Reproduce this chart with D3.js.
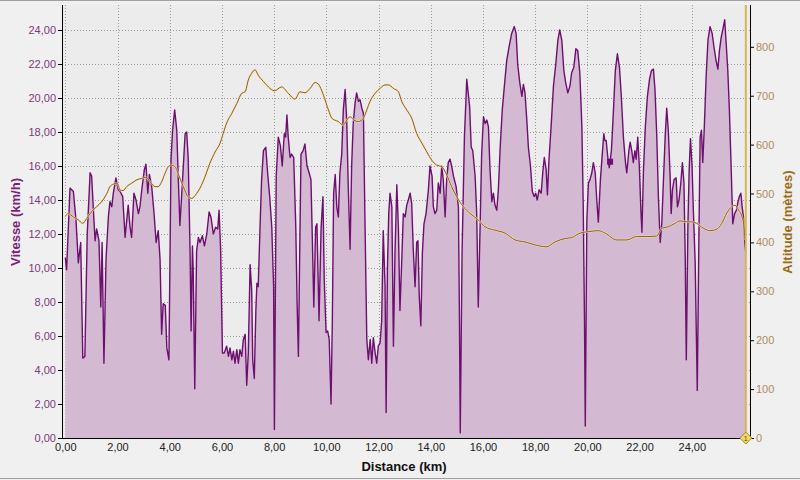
<!DOCTYPE html>
<html><head><meta charset="utf-8">
<script src="https://cdn.jsdelivr.net/npm/d3@7"></script>
<style>
html,body{margin:0;padding:0;background:#f0f0f0;}
svg{display:block;font-family:"Liberation Sans",Arial,sans-serif;}
</style></head>
<body>
<svg id="c" width="800" height="480"></svg>
<script>
// Speed profile: distance (km) and speed (km/h)
const speedDist = [0.00,0.05,0.18,0.31,0.41,0.50,0.59,0.67,0.75,0.84,0.95,1.01,1.07,1.14,1.20,1.29,1.36,1.41,1.48,1.56,1.65,1.71,1.78,1.84,1.94,2.03,2.10,2.20,2.29,2.41,2.48,2.54,2.63,2.71,2.80,2.86,2.93,3.03,3.09,3.16,3.22,3.31,3.40,3.48,3.56,3.63,3.69,3.75,3.83,3.89,3.97,4.05,4.11,4.19,4.27,4.33,4.39,4.50,4.59,4.65,4.71,4.78,4.82,4.87,4.90,4.96,5.03,5.10,5.16,5.25,5.33,5.42,5.51,5.58,5.67,5.76,5.84,5.89,5.95,6.02,6.09,6.18,6.25,6.31,6.38,6.44,6.50,6.57,6.63,6.69,6.76,6.82,6.89,6.95,7.01,7.08,7.14,7.18,7.24,7.30,7.34,7.39,7.46,7.52,7.59,7.68,7.75,7.83,7.91,7.98,8.01,8.08,8.16,8.24,8.31,8.39,8.44,8.49,8.54,8.61,8.67,8.75,8.83,8.88,8.93,8.98,9.03,9.11,9.18,9.26,9.34,9.41,9.46,9.52,9.59,9.64,9.72,9.80,9.87,9.92,9.99,10.05,10.11,10.18,10.23,10.28,10.34,10.40,10.46,10.52,10.59,10.65,10.72,10.78,10.84,10.91,10.97,11.03,11.10,11.16,11.23,11.29,11.36,11.42,11.48,11.55,11.61,11.68,11.74,11.80,11.87,11.93,11.99,12.06,12.12,12.18,12.25,12.29,12.34,12.39,12.44,12.51,12.57,12.63,12.70,12.76,12.82,12.89,12.95,13.02,13.08,13.14,13.21,13.27,13.33,13.40,13.46,13.51,13.56,13.62,13.68,13.74,13.82,13.91,13.97,14.05,14.10,14.16,14.23,14.29,14.36,14.42,14.48,14.55,14.61,14.67,14.74,14.80,14.87,14.97,15.06,15.10,15.13,15.20,15.29,15.38,15.49,15.55,15.61,15.70,15.76,15.82,15.89,15.95,16.02,16.08,16.15,16.21,16.27,16.34,16.40,16.46,16.53,16.59,16.66,16.74,16.82,16.91,17.00,17.10,17.20,17.27,17.33,17.41,17.49,17.55,17.61,17.68,17.74,17.82,17.89,17.96,18.02,18.08,18.15,18.23,18.29,18.35,18.42,18.47,18.53,18.61,18.70,18.79,18.87,18.94,19.02,19.10,19.17,19.25,19.33,19.40,19.48,19.56,19.63,19.71,19.79,19.84,19.89,19.92,19.98,20.04,20.10,20.17,20.23,20.30,20.36,20.42,20.50,20.57,20.63,20.67,20.72,20.79,20.84,20.92,21.00,21.07,21.15,21.23,21.30,21.38,21.46,21.51,21.59,21.64,21.70,21.76,21.82,21.87,21.93,21.99,22.05,22.09,22.15,22.22,22.30,22.38,22.45,22.53,22.59,22.66,22.72,22.79,22.85,22.91,22.98,23.04,23.10,23.17,23.21,23.26,23.32,23.40,23.45,23.51,23.58,23.64,23.70,23.75,23.79,23.85,23.90,23.95,24.01,24.06,24.13,24.18,24.21,24.27,24.32,24.37,24.42,24.48,24.55,24.62,24.70,24.78,24.85,24.93,25.00,25.06,25.13,25.21,25.26,25.31,25.38,25.44,25.51,25.57,25.64,25.71,25.77,25.82,25.88,25.93,25.98,26.03,26.07];
const speedKmh = [10.6,9.9,14.7,14.5,12.8,10.3,11.5,4.7,4.8,12.0,15.6,15.4,13.6,11.6,12.3,11.6,7.7,11.5,4.4,10.5,13.0,13.9,13.6,14.4,15.3,14.6,14.5,14.2,11.8,13.7,12.4,11.8,14.4,14.0,13.2,13.6,14.6,15.8,16.1,14.4,15.5,14.8,13.2,11.5,12.2,10.5,6.1,7.9,7.8,5.3,4.6,16.4,18.1,19.3,18.1,15.2,12.5,15.4,17.9,18.0,16.4,10.9,6.3,11.3,9.9,2.9,11.0,11.8,11.5,11.9,11.3,12.0,13.3,13.0,12.0,12.4,12.3,13.4,11.1,5.0,5.0,5.4,4.8,5.3,4.6,5.1,4.4,5.2,4.4,5.2,4.8,5.8,6.1,3.1,5.0,10.2,8.7,4.6,3.5,7.5,9.1,8.9,12.4,15.2,16.9,17.1,15.6,14.2,12.4,8.9,0.5,15.4,17.7,17.2,16.0,17.9,17.7,19.0,17.7,16.5,16.7,16.5,12.4,7.9,4.8,10.9,16.7,16.9,17.3,16.0,15.6,15.2,12.0,7.7,12.4,12.6,6.9,12.4,14.2,9.3,6.2,6.3,5.8,2.0,6.9,14.4,15.5,13.6,13.0,15.6,16.7,19.3,20.5,18.7,14.8,11.1,16.0,18.5,19.7,20.3,19.8,19.9,19.4,19.1,12.8,5.8,4.6,5.8,4.4,5.9,5.0,4.4,5.4,5.6,6.9,12.2,8.9,1.5,9.9,13.2,14.4,13.6,5.4,10.9,14.9,12.4,7.5,10.5,13.2,13.0,13.7,14.0,14.4,13.8,11.1,8.9,11.5,11.6,8.3,6.6,10.9,12.6,13.2,14.6,16.0,15.4,13.6,13.2,13.4,15.0,14.4,16.0,15.2,13.0,15.2,16.2,16.4,16.0,15.4,14.8,13.6,6.9,0.3,10.9,17.7,21.1,19.5,17.1,16.9,15.4,13.2,7.7,12.4,16.7,18.9,18.5,18.7,18.3,15.8,13.9,14.4,13.7,13.4,14.6,17.1,19.3,20.7,22.2,23.0,23.8,24.2,23.8,22.0,20.9,20.1,20.8,20.3,18.7,17.1,16.0,14.5,14.2,14.4,14.0,14.6,14.4,15.6,16.5,15.8,14.3,16.4,18.3,20.7,22.0,23.4,24.0,23.4,21.6,20.9,20.3,20.7,21.5,21.8,22.9,22.8,21.5,18.3,13.8,6.9,0.7,12.8,15.0,15.2,15.6,16.2,15.6,14.0,12.7,15.2,16.7,17.9,17.5,17.5,16.4,15.9,16.9,19.3,21.6,22.6,21.8,20.1,17.7,16.2,15.6,16.9,17.4,16.9,16.2,16.9,16.4,17.7,16.0,13.4,12.1,15.8,18.3,20.1,21.1,21.6,21.7,20.5,17.7,14.2,11.5,12.6,15.0,17.7,19.4,18.1,15.4,13.2,14.6,15.2,15.3,13.6,14.0,15.0,16.2,15.0,10.5,4.6,12.4,15.8,17.6,16.0,13.4,10.3,5.6,2.8,11.5,17.7,18.1,16.2,18.3,21.3,23.4,24.2,23.8,23.0,22.2,21.7,22.8,23.6,24.2,24.6,23.4,21.6,19.3,15.8,12.6,13.2,13.4,13.9,14.2,14.4,13.6,13.0,11.5,10.9];

// Altitude profile: distance (km) and altitude (m)
const altDist = [0.00,0.11,0.31,0.50,0.67,0.82,1.01,1.20,1.39,1.59,1.71,1.84,1.99,2.10,2.22,2.35,2.54,2.74,2.93,3.09,3.25,3.44,3.56,3.69,3.82,3.95,4.08,4.20,4.37,4.52,4.71,4.84,5.03,5.16,5.35,5.54,5.74,5.93,6.05,6.18,6.38,6.57,6.76,6.89,7.01,7.14,7.27,7.39,7.59,7.78,8.01,8.29,8.54,8.80,8.99,9.18,9.38,9.57,9.69,9.89,10.08,10.21,10.46,10.65,10.78,10.91,11.06,11.23,11.42,11.55,11.67,11.87,12.06,12.25,12.38,12.57,12.76,12.89,13.08,13.27,13.46,13.66,13.85,14.04,14.23,14.42,14.61,14.80,15.00,15.25,15.51,15.82,16.08,16.46,16.85,17.23,17.61,17.99,18.44,18.76,19.15,19.40,19.72,20.04,20.42,20.68,21.13,21.51,21.89,22.28,22.66,22.85,23.10,23.36,23.55,23.81,24.00,24.19,24.44,24.70,24.96,25.15,25.34,25.53,25.66,25.79,25.92,26.00,26.04];
const altM = [453,459,452,446,439,449,463,473,483,500,514,519,521,507,506,514,521,528,531,533,524,514,514,524,541,555,558,555,534,514,493,490,500,511,534,562,585,603,623,644,664,684,705,708,732,746,753,742,729,718,710,718,705,693,708,706,715,727,724,701,671,654,647,640,650,657,650,647,654,671,688,705,715,722,722,715,708,688,671,654,623,603,585,568,558,555,538,514,493,473,459,446,432,425,419,405,401,395,391,401,408,410,419,422,424,419,405,405,412,412,413,429,432,439,444,442,442,439,429,424,427,439,460,473,476,466,453,432,405];

// Axis ticks
const speedTicks = [0,2,4,6,8,10,12,14,16,18,20,22,24];
const altTicks = [0,100,200,300,400,500,600,700,800];
const distTicks = [0,2,4,6,8,10,12,14,16,18,20,22,24];

// Markers
const lapMarkerKm = 26.07;
const pointMarker = {km: 20.87, v: 16.25};

const svg = d3.select("#c");
const L = 62, R = 750, T = 5, B = 438;

const x = d3.scaleLinear().domain([-0.1264, 26.23]).range([L, R]);
const yS = d3.scaleLinear().domain([0, 25.47]).range([B, T]);
const yA = d3.scaleLinear().domain([0, 885.5]).range([B, T]);
const fmt = v => d3.format(".2f")(v).replace(".", ",");

// background & frame
svg.append("rect").attr("x",0).attr("y",0).attr("width",800).attr("height",480).attr("fill","#f0f0f0");
svg.append("line").attr("x1",0).attr("x2",800).attr("y1",0.5).attr("y2",0.5).attr("stroke","#a0a0a0");
svg.append("line").attr("x1",0).attr("x2",800).attr("y1",478.5).attr("y2",478.5).attr("stroke","#a0a0a0");
svg.append("rect").attr("x",L).attr("y",T).attr("width",R-L).attr("height",B-T).attr("fill","#ececec");

// grid
const g = svg.append("g");
g.selectAll(".gx").data(distTicks).join("line")
  .attr("x1",d=>Math.round(x(d))+0.5).attr("x2",d=>Math.round(x(d))+0.5)
  .attr("y1",T).attr("y2",B).attr("stroke","#9a9a9a").attr("stroke-dasharray","1,2");
g.selectAll(".gy").data(speedTicks.filter(d=>d>0)).join("line")
  .attr("x1",L).attr("x2",R).attr("y1",d=>Math.round(yS(d))+0.5).attr("y2",d=>Math.round(yS(d))+0.5)
  .attr("stroke","#9a9a9a").attr("stroke-dasharray","1,2");

// speed area + line
const sp = speedDist.map((d,i)=>({d, v: speedKmh[i]}));
const area = d3.area().x(p=>x(p.d)).y0(yS(0)).y1(p=>yS(p.v));
const line = d3.line().x(p=>x(p.d)).y(p=>yS(p.v));
svg.append("path").datum(sp).attr("d",area).attr("fill","#d4b9d3");
svg.append("path").datum(sp).attr("d",line).attr("fill","none").attr("stroke","#6d0f6e").attr("stroke-width",1.4).attr("stroke-linejoin","round");

// altitude line
const al = altDist.map((d,i)=>({d, a: altM[i]}));
const aline = d3.line().x(p=>x(p.d)).y(p=>yA(p.a)).curve(d3.curveMonotoneX);
svg.append("path").datum(al).attr("d",aline).attr("fill","none").attr("stroke","#f5e3b0").attr("stroke-width",2.2).attr("opacity",0.7);
svg.append("path").datum(al).attr("d",aline).attr("fill","none").attr("stroke","#8e5d1c").attr("stroke-width",1);

// point marker
svg.append("rect").attr("x",x(pointMarker.km)-3).attr("y",yS(pointMarker.v)-3).attr("width",6).attr("height",6).attr("fill","#6d0f6e");

// lap marker line
svg.append("line").attr("x1",x(lapMarkerKm)).attr("x2",x(lapMarkerKm)).attr("y1",T).attr("y2",B)
  .attr("stroke","#d7b650").attr("stroke-width",2);

// axes
const axL = svg.append("g").attr("transform",`translate(${L},0)`).call(d3.axisLeft(yS).tickValues(speedTicks).tickFormat(fmt).tickSize(4).tickPadding(2));
axL.select(".domain").remove();
axL.selectAll("line").attr("stroke","#000");
axL.selectAll("text").attr("fill","#7b3a7b").attr("font-size","11px").attr("font-family","Liberation Sans, Arial, sans-serif");

const axR = svg.append("g").attr("transform",`translate(${R},0)`).call(d3.axisRight(yA).tickValues(altTicks).tickFormat(d3.format("d")).tickSize(4).tickPadding(2));
axR.select(".domain").remove();
axR.selectAll("line").attr("stroke","#000");
axR.selectAll("text").attr("fill","#ad8c5c").attr("font-size","11px").attr("font-family","Liberation Sans, Arial, sans-serif");

const axB = svg.append("g").attr("transform",`translate(0,${B})`).call(d3.axisBottom(x).tickValues(distTicks).tickFormat(fmt).tickSize(0).tickPadding(5));
axB.select(".domain").remove();
axB.selectAll("text").attr("fill","#222").attr("font-size","11px").attr("font-family","Liberation Sans, Arial, sans-serif");

svg.append("line").attr("x1",L+0.5).attr("x2",L+0.5).attr("y1",T).attr("y2",B).attr("stroke","#000");
svg.append("line").attr("x1",R+0.5).attr("x2",R+0.5).attr("y1",T).attr("y2",B).attr("stroke","#000");
svg.append("line").attr("x1",L).attr("x2",R+1).attr("y1",B+0.5).attr("y2",B+0.5).attr("stroke","#000");

// diamond marker at lap end
const dm = svg.append("g").attr("transform",`translate(${x(lapMarkerKm)},${B})`);
dm.append("path").attr("d","M0,-6L6,0L0,6L-6,0Z").attr("fill","#f3d76a").attr("stroke","#a8882a");
dm.append("text").attr("y",3).attr("text-anchor","middle").attr("font-size","7px").attr("fill","#5a4a10").text("1");

// titles
svg.append("text").attr("transform","translate(20,222) rotate(-90)").attr("text-anchor","middle")
  .attr("font-size","13px").attr("font-weight","bold").attr("fill","#7a1f7b").text("Vitesse (km/h)");
svg.append("text").attr("transform","translate(792,222) rotate(-90)").attr("text-anchor","middle")
  .attr("font-size","13px").attr("font-weight","bold").attr("fill","#9b6a14").text("Altitude (mètres)");
svg.append("text").attr("x",404).attr("y",471).attr("text-anchor","middle")
  .attr("font-size","13px").attr("font-weight","bold").attr("fill","#111").text("Distance (km)");
</script>
</body></html>
